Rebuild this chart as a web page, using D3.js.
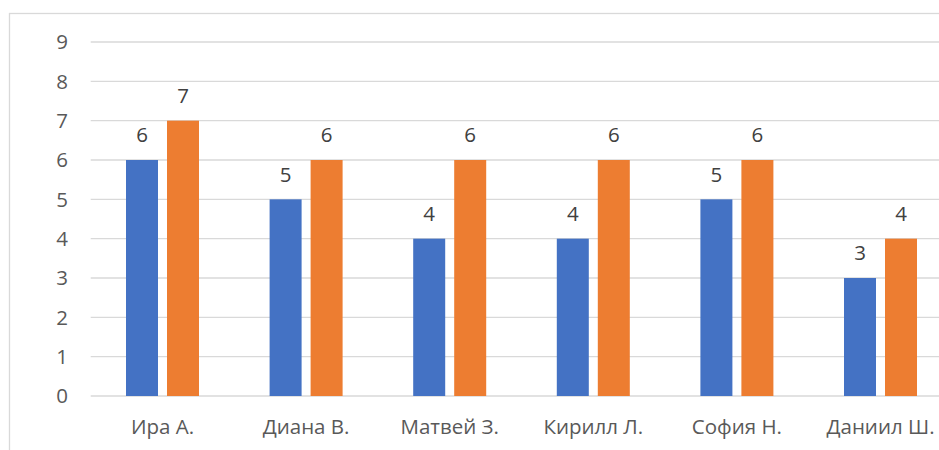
<!DOCTYPE html>
<html>
<head>
<meta charset="utf-8">
<script src="https://cdn.jsdelivr.net/npm/d3@7"></script>
<style>
  body { margin: 0; background: #fff; }
  text { font-family: "Open Sans", "Noto Sans", sans-serif; }
</style>
</head>
<body>
<script>
let width = 939;
let height = 450;

var names = ['Ира А.', 'Диана В.', 'Матвей З.', 'Кирилл Л.', 'София Н.', 'Даниил Ш.'];
var seriesA = [6, 5, 4, 4, 5, 3];
var seriesB = [7, 6, 6, 6, 6, 4];
var yTicks = [0, 1, 2, 3, 4, 5, 6, 7, 8, 9];

let plotLeft = 90.7, plotRight = 952.3, plotTop = 42, plotBottom = 396;
let fontSize = 20.5;

var svg = d3.select('body')
            .append('svg')
            .attr('width', width)
            .attr('height', height);

// chart frame (cropped on the right and bottom)
svg.append('rect').attr('x', 9.5).attr('y', 13.5).attr('width', 1000).attr('height', 1000)
    .attr('fill', 'none').attr('stroke', '#d9d9d9').attr('stroke-width', 1.3);

var x = d3.scaleBand().domain(names).range([plotLeft, plotRight]);
var y = d3.scaleLinear().domain([0, 9]).range([plotBottom, plotTop]);

var barW = 32, gap = 9;

// gridlines
svg.selectAll('.grid').data(yTicks).enter().append('line')
    .attr('x1', plotLeft).attr('x2', plotRight)
    .attr('y1', d => y(d)).attr('y2', d => y(d))
    .attr('stroke', '#d9d9d9').attr('stroke-width', 1.3);

// y tick labels
svg.selectAll('.ytick').data(yTicks).enter().append('text')
    .attr('x', 68).attr('y', d => y(d)).attr('dy', '.35em')
    .attr('text-anchor', 'end').attr('font-size', fontSize).attr('fill', '#595959')
    .text(d => d);

function drawSeries(vals, color, offset) {
  svg.selectAll(null).data(vals).enter().append('rect')
      .attr('x', (d, i) => x(names[i]) + x.bandwidth() / 2 + offset)
      .attr('y', d => y(d))
      .attr('width', barW)
      .attr('height', d => y(0) - y(d))
      .attr('fill', color);

  svg.selectAll(null).data(vals).enter().append('text')
      .attr('x', (d, i) => x(names[i]) + x.bandwidth() / 2 + offset + barW / 2)
      .attr('y', d => y(d) - 25)
      .attr('dy', '.35em')
      .attr('text-anchor', 'middle').attr('font-size', fontSize).attr('fill', '#404040')
      .text(d => d);
}

drawSeries(seriesA, '#4472c4', -gap / 2 - barW);
drawSeries(seriesB, '#ed7d31', gap / 2);

// x labels
svg.selectAll('.xlab').data(names).enter().append('text')
    .attr('x', d => x(d) + x.bandwidth() / 2).attr('y', 427).attr('dy', '.35em')
    .attr('text-anchor', 'middle').attr('font-size', fontSize).attr('fill', '#595959')
    .text(d => d);
</script>
</body>
</html>
